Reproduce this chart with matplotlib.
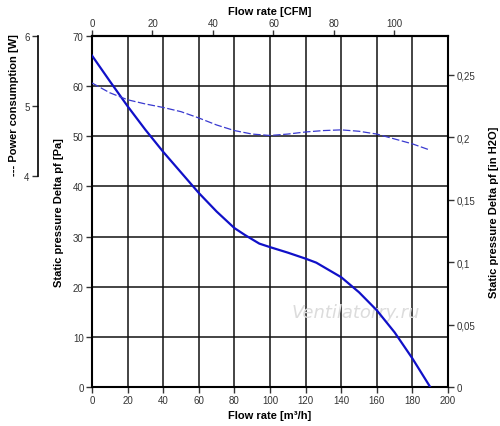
import numpy as np
import matplotlib
matplotlib.use("Agg")
import matplotlib.pyplot as plt

plt.rcParams['font.family'] = ['Liberation Sans', 'DejaVu Sans']

#-----Data-----

flow_m3h = [0, 10, 20, 30, 40, 50, 60, 70, 80, 86, 94, 100, 110, 120, 126, 140, 150, 160, 170, 180, 190]
pressure_pa = [66.1, 61.0, 56.0, 51.3, 46.9, 42.8, 38.7, 35.0, 31.7, 30.3, 28.6, 27.9, 26.8, 25.6, 24.8, 21.9, 18.9, 15.3, 10.9, 5.7, 0.0]

power_flow = [0, 10, 20, 30, 40, 50, 60, 70, 80, 90, 100, 110, 120, 130, 140, 150, 160, 170, 180, 190]
power_w = [5.33, 5.19, 5.09, 5.03, 4.98, 4.92, 4.83, 4.73, 4.65, 4.60, 4.58, 4.60, 4.63, 4.65, 4.66, 4.64, 4.60, 4.53, 4.46, 4.37]

flow_ticks = [0, 20, 40, 60, 80, 100, 120, 140, 160, 180, 200]
cfm_ticks = [0, 20, 40, 60, 80, 100]
pa_ticks = [0, 10, 20, 30, 40, 50, 60, 70]
inh2o_ticks = [0, 0.05, 0.1, 0.15, 0.2, 0.25]
inh2o_labels = ["0", "0,05", "0,1", "0,15", "0,2", "0,25"]
power_ticks = [4, 5, 6]

M3H_PER_CFM = 1.699
PA_PER_INH2O = 249.09

#-----Figure-----

fig = plt.figure(figsize=(5.0, 4.27), dpi=100)
ax = fig.add_axes([0.184, 0.0913, 0.712, 0.822])

ax.set_xlim(0, 200)
ax.set_ylim(0, 70)
ax.set_xticks(flow_ticks)
ax.set_yticks(pa_ticks)
ax.grid(True, color='#111111', linewidth=1.1)
ax.set_axisbelow(True)
ax.tick_params(direction='out', length=4, width=1, labelsize=7, colors='#333333', pad=2)
for s in ax.spines.values():
    s.set_linewidth(1.5)
ax.spines['right'].set_visible(False)

ax.set_xlabel("Flow rate [m³/h]", fontsize=8, fontweight='bold', labelpad=3)
ax.set_ylabel("Static pressure Delta pf [Pa]", fontsize=8, fontweight='bold', labelpad=6)

# top axis in CFM
ax_top = ax.twiny()
ax_top.set_xlim(0, 200 / M3H_PER_CFM)
ax_top.set_xticks(cfm_ticks)
ax_top.tick_params(direction='out', length=4, width=1, labelsize=7, colors='#333333', pad=2)
ax_top.set_xlabel("Flow rate [CFM]", fontsize=8, fontweight='bold', labelpad=3)
for s in ax_top.spines.values():
    s.set_visible(False)
ax_top.spines['top'].set_visible(True)
ax_top.spines['top'].set_linewidth(1.5)

# right axis in inH2O
ax_r = ax.twinx()
ax_r.set_ylim(0, 70 / PA_PER_INH2O)
ax_r.set_yticks(inh2o_ticks)
ax_r.set_yticklabels(inh2o_labels)
ax_r.tick_params(direction='out', length=4, width=1, labelsize=7, colors='#333333', pad=2)
ax_r.set_ylabel("Static pressure Delta pf [in H2O]", fontsize=8, fontweight='bold', labelpad=10)
for s in ax_r.spines.values():
    s.set_visible(False)
ax_r.spines['right'].set_visible(True)
ax_r.spines['right'].set_linewidth(1.5)

# power axis on far left, 4..6 W spans 70 Pa down to ~42 Pa
pa_per_w = 13.96
w_bottom = 4 - 42.07 / pa_per_w
ax_p = ax.twinx()
ax_p.set_ylim(w_bottom, w_bottom + 70 / pa_per_w)
ax_p.yaxis.set_ticks_position('left')
ax_p.yaxis.set_label_position('left')
for s in ax_p.spines.values():
    s.set_visible(False)
ax_p.spines['left'].set_visible(True)
ax_p.spines['left'].set_position(('outward', 39))
ax_p.spines['left'].set_bounds(4, 6)
ax_p.spines['left'].set_linewidth(1.2)
ax_p.set_yticks(power_ticks)
ax_p.tick_params(direction='out', length=4, width=1, labelsize=7, colors='#333333', pad=2)
ax_p.set_ylabel("--- Power consumption [W]", fontsize=8, fontweight='bold')
ax_p.yaxis.set_label_coords(-0.205, 0.806, transform=ax.transAxes)

# curves
ax.plot(flow_m3h, pressure_pa, color='#1010c8', linewidth=1.6, zorder=5)
ax_p.plot(power_flow, power_w, color='#3a3ad0', linewidth=0.9, linestyle=(0, (6, 2)), zorder=5)

# watermark
ax.text(0.74, 0.214, "Ventilatorry.ru", transform=ax.transAxes, fontsize=13,
        family='DejaVu Sans', style='italic', color='#dcdcdc',
        ha='center', va='center', zorder=4)

fig.savefig("out.png", dpi=100)
